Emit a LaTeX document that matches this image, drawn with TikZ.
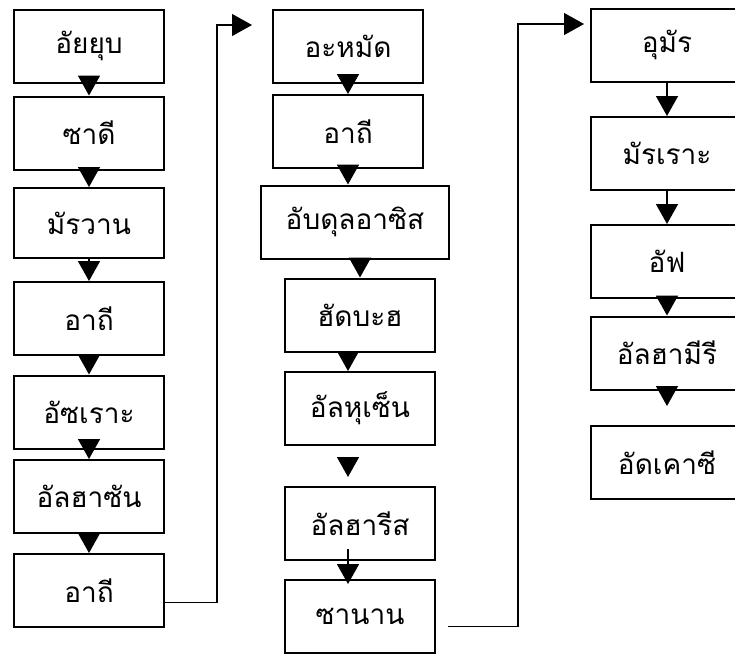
\documentclass[tikz,border=0pt]{standalone}
\usepackage{fontspec}
\newfontfamily\thaifont[Script=Thai]{Loma}
\usetikzlibrary{
    positioning,
    arrows.meta
}

\begin{document}
\begin{tikzpicture}[x=0.5pt, y=-0.5pt, >={Triangle[length=10pt, width=11pt]},
        box/.style={draw, line width=1pt, minimum width=75pt, minimum height=36.5pt,
            inner sep=0pt, font=\thaifont\fontsize{14}{17}\selectfont},
        flow/.style={->, line width=0.8pt},
        link/.style={->, line width=0.6pt}]
        \useasboundingbox (0,0) rectangle (735,654);
        \clip (0,0) rectangle (735,654);

        % first column
        \node[box] (a1) at (89,46) {อัยยุบ};
        \node[box] (a2) at (89,133) {ซาดี};
        \node[box, minimum height=35pt] (a3) at (89,223) {มัรวาน};
        \node[box] (a4) at (89,318.5) {อาถี};
        \node[box] (a5) at (89,412) {อัซเราะ};
        \node[box] (a6) at (89,496.5) {อัลฮาซัน};
        \node[box] (a7) at (89,590.5) {อาถี};

        % second column
        \node[box] (b1) at (348,46) {อะหมัด};
        \node[box] (b2) at (348,131.5) {อาถี};
        \node[box, minimum width=94pt] (b3) at (355,222) {อับดุลอาซิส};
        \node[box] (b4) at (360,315) {ฮัดบะฮ};
        \node[box] (b5) at (360,408.5) {อัลหุเซ็น};
        \node[box] (b6) at (360,523.5) {อัลฮารีส};
        \node[box] (b7) at (360,616.5) {ซานาน};

        % third column
        \node[box, minimum width=76pt] (c1) at (667,45) {อุมัร};
        \node[box, minimum width=76pt] (c2) at (667,153.5) {มัรเราะ};
        \node[box, minimum width=76pt] (c3) at (667,261.5) {อัฟ};
        \node[box, minimum width=76pt] (c4) at (667,353) {อัลฮามีรี};
        \node[box, minimum width=76pt] (c5) at (667,462.5) {อัดเคาซี};

        \draw[flow] (a1) -- (a2);
        \draw[flow] (a2) -- (a3);
        \draw[flow] (a3) -- (a4);
        \draw[flow] (a4) -- (a5);
        \draw[flow] (a5) -- (a6);
        \draw[flow] (a6) -- (a7);

        \draw[flow] (b1) -- (b2);
        \draw[flow] (b2.south) -- (b2.south |- b3.north);
        \draw[flow] (b3.south -| b4) -- (b4.north);
        \draw[flow] (b4.south -| b1) -- (b5.north -| b1);
        \draw[flow, shorten <=6.5pt, shorten >=4.5pt] (b5.south -| b1) -- (b6.north -| b1);
        \draw[flow, shorten <=-6pt, shorten >=-2.5pt] (b6.south -| b1) -- (b7.north -| b1);

        \draw[flow] (c1) -- (c2);
        \draw[flow] (c2) -- (c3);
        \draw[flow] (c3) -- (c4);
        \draw[flow, shorten >=9.5pt] (c4) -- (c5);

        % links between the columns
        \coordinate (j1) at (217,25);
        \coordinate (j2) at (518,24);
        \draw[link] ([yshift=-6pt]a7.east) -| (j1) -- ([xshift=-10pt]b1.west |- j1);
        \draw[link] ([xshift=6pt, yshift=-5pt]b7.east) -| (j2) -- ([xshift=-3pt]c1.west |- j2);
    \end{tikzpicture}
\end{document}
